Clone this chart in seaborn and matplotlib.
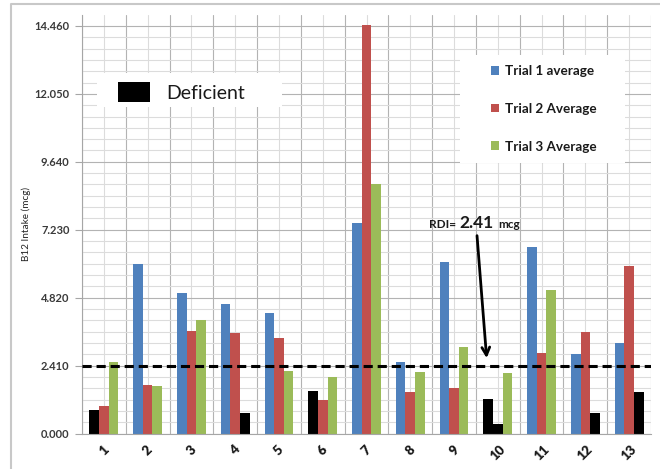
import matplotlib
matplotlib.use("Agg")
import matplotlib.pyplot as plt
import seaborn as sns
import pandas as pd
import numpy as np
from matplotlib.patches import Patch, Rectangle
from matplotlib.lines import Line2D
from matplotlib.ticker import FixedLocator, MultipleLocator

# Average B12 intake per subject (mcg)
subjects = [str(i) for i in range(1, 14)]
trial1 = [0.83, 6.03, 4.99, 4.59, 4.28, 1.51, 7.47, 2.55, 6.09, 1.23, 6.62, 2.82, 3.22]
trial2 = [0.99, 1.73, 3.65, 3.56, 3.40, 1.19, 14.48, 1.49, 1.62, 0.33, 2.86, 3.60, 5.95]
trial3 = [2.53, 1.69, 4.03, 0.73, 2.22, 2.01, 8.84, 2.18, 3.09, 2.14, 5.08, 0.73, 1.49]

# 1 = intake flagged as deficient for that trial
deficient1 = [1, 0, 0, 0, 0, 1, 0, 0, 0, 1, 0, 0, 0]
deficient2 = [0, 0, 0, 0, 0, 0, 0, 0, 0, 1, 0, 0, 0]
deficient3 = [0, 0, 0, 1, 0, 0, 0, 0, 0, 0, 0, 1, 1]

series_names = ["Trial 1 average", "Trial 2 Average", "Trial 3 Average"]
series_colors = ["#4f81bd", "#c0504d", "#9bbb59"]

rdi = 2.41
ytick_values = [0.0, 2.41, 4.82, 7.23, 9.64, 12.05, 14.46]

df = pd.DataFrame({
    "Subject": subjects * 3,
    "Trial": [series_names[0]] * 13 + [series_names[1]] * 13 + [series_names[2]] * 13,
    "Intake": trial1 + trial2 + trial3,
})

sns.set_theme(style="white")
plt.rcParams["font.family"] = ["Lato", "DejaVu Sans"]

fig = plt.figure(figsize=(6.6, 4.69), dpi=100)
ax = fig.add_axes([82 / 660, 35.3 / 469, 569 / 660, 419.1 / 469])

sns.barplot(data=df, x="Subject", y="Intake", hue="Trial", order=subjects,
            hue_order=series_names, palette=series_colors, width=0.66,
            saturation=1, errorbar=None, linewidth=0, legend=False, ax=ax)

# Deficient bars are shown in black
for container, flags in zip(ax.containers, [deficient1, deficient2, deficient3]):
    for bar, flag in zip(container, flags):
        if flag:
            bar.set_facecolor("black")

ax.set_xlim(-0.5, 12.5)
ax.set_ylim(0, 14.86)

# Axes, ticks and grid
ax.yaxis.set_major_locator(FixedLocator(ytick_values))
ax.set_yticklabels([f"{v:.3f}" for v in ytick_values])
ax.yaxis.set_minor_locator(MultipleLocator(2.41 / 6))
ax.xaxis.set_minor_locator(FixedLocator(np.arange(-0.5, 13, 1.0)))
ax.set_xticks(range(13))
ax.set_xticklabels(subjects, rotation=45, ha="center", fontsize=9.5,
                   fontweight="heavy", color="#1a1a1a")
for lab in ax.get_yticklabels():
    lab.set_fontsize(8)
    lab.set_fontweight("bold")
    lab.set_color("#3a3a3a")

ax.tick_params(axis="x", which="major", length=0, pad=7)
ax.tick_params(axis="x", which="minor", length=5, color="#a6a6a6", width=0.8)
ax.tick_params(axis="y", which="major", length=5, color="#a6a6a6", width=0.8, pad=4,
               left=True)
ax.tick_params(axis="y", which="minor", length=0)

ax.set_axisbelow(True)
ax.grid(which="major", axis="y", color="#b3b3b3", lw=0.8)
ax.grid(which="minor", axis="y", color="#dcdcdc", lw=0.8)
ax.grid(which="minor", axis="x", color="#b3b3b3", lw=0.8)
ax.grid(which="major", axis="x", color="#dcdcdc", lw=0.8)

for side in ["top", "right"]:
    ax.spines[side].set_visible(False)
for side in ["left", "bottom"]:
    ax.spines[side].set_color("#a6a6a6")
    ax.spines[side].set_linewidth(0.8)

ax.set_xlabel("")
ax.set_ylabel("B12 Intake (mcg)", fontsize=7.2, color="#262626")
ax.yaxis.set_label_coords(-0.0896, 0.5)

# RDI reference line
ax.axhline(rdi, color="black", lw=2.2, dashes=(3, 1.6), zorder=5)
ax.annotate("", xy=(8.75, 2.58), xytext=(8.52, 7.12),
            arrowprops=dict(arrowstyle="->", lw=2, color="black", mutation_scale=14),
            zorder=6)
ax.text(8.05, 7.31, "RDI=", ha="right", va="baseline", fontsize=8.5,
        fontweight="bold", color="#1a1a1a")
ax.text(8.52, 7.31, f"{rdi:.2f}", ha="center", va="baseline", fontsize=12.5,
        fontweight="bold", color="#1a1a1a")
ax.text(9.02, 7.31, "mcg", ha="left", va="baseline", fontsize=8.5,
        fontweight="bold", color="#1a1a1a")

# Series legend on a white panel
ax.add_patch(Rectangle((0.664, 0.646), 0.29, 0.258, transform=ax.transAxes,
                       facecolor="white", edgecolor="none", zorder=3))
series_handles = [Patch(facecolor=c, edgecolor="none") for c in series_colors]
leg1 = ax.legend(series_handles, series_names, loc="upper left",
                 bbox_to_anchor=(0.719, 0.879), frameon=False, borderpad=0,
                 borderaxespad=0, labelspacing=1.9, handlelength=0.6,
                 handleheight=0.6, handletextpad=0.4,
                 prop={"weight": "bold", "size": 9.7})
for t in leg1.get_texts():
    t.set_color("#1a1a1a")
ax.add_artist(leg1)

# Deficient key on a white panel
ax.add_patch(Rectangle((0.026, 0.7795), 0.325, 0.0815, transform=ax.transAxes,
                       facecolor="white", edgecolor="none", zorder=3))
leg2 = ax.legend([Patch(facecolor="black", edgecolor="none")], ["Deficient"],
                 loc="upper left", bbox_to_anchor=(0.0633, 0.838), frameon=False,
                 borderpad=0, borderaxespad=0, handlelength=1.65,
                 handleheight=1.2, handletextpad=0.85, prop={"size": 14})
for t in leg2.get_texts():
    t.set_color("#1a1a1a")

# Chart area frame
fig.add_artist(Line2D([11 / 660, 11 / 660, 1.0], [0.0, 465 / 469, 465 / 469],
                      transform=fig.transFigure, color="#c8c8c8", lw=1.5))

fig.savefig("out.png", dpi=100)
